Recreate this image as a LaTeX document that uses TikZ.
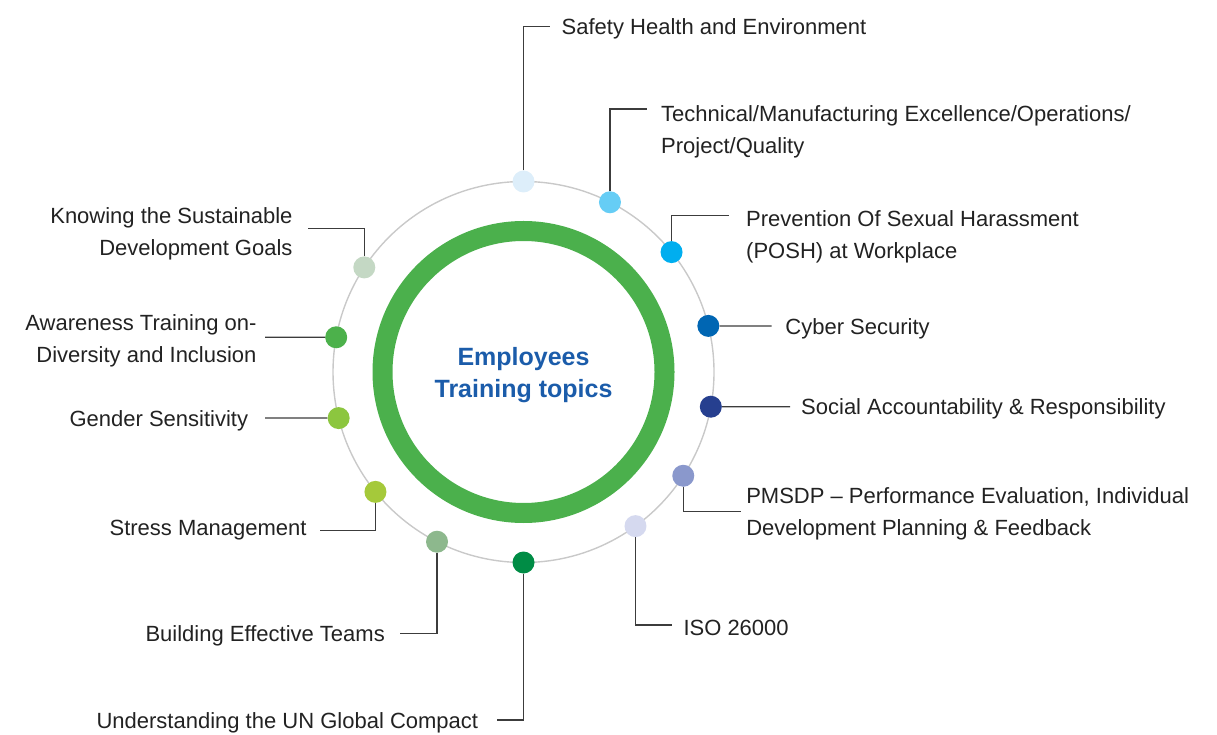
\documentclass[tikz,border=0pt]{standalone}
\usepackage{fontspec}
\setmainfont{Liberation Sans}
\usepackage{xcolor}
\usepackage{tikz}
\usetikzlibrary{positioning, calc}
\definecolor{ring-green}{HTML}{4BB04C}
\definecolor{circle-grey}{HTML}{C9C9C9}
\definecolor{lead-grey}{HTML}{3C3C3C}
\definecolor{topic-black}{HTML}{222222}
\definecolor{title-blue}{HTML}{1B5CAA}
\definecolor{c-safety}{HTML}{DDEEFA}
\definecolor{c-tech}{HTML}{66CDF5}
\definecolor{c-posh}{HTML}{00AEEF}
\definecolor{c-cyber}{HTML}{0066B3}
\definecolor{c-social}{HTML}{263F8F}
\definecolor{c-pmsdp}{HTML}{8A98CC}
\definecolor{c-iso}{HTML}{D5D9EF}
\definecolor{c-un}{HTML}{008C45}
\definecolor{c-teams}{HTML}{8DB88D}
\definecolor{c-stress}{HTML}{A5C93A}
\definecolor{c-gender}{HTML}{8CC63F}
\definecolor{c-diversity}{HTML}{4CB14B}
\definecolor{c-sdg}{HTML}{C4D8C4}
\tikzstyle{dot} = [circle, inner sep=0pt, minimum size=22pt]
\tikzstyle{lead} = [line width=1.3pt, draw=lead-grey]
\tikzstyle{topic} = [inner sep=0pt, yshift=-2.5pt, text=topic-black, font=\fontsize{22}{32}\selectfont]
\tikzstyle{title} = [inner sep=0pt, align=center, text=title-blue, font=\fontsize{25}{32}\selectfont\bfseries]

\begin{document}
\begin{tikzpicture}[x=1pt, y=1pt]
        \useasboundingbox (0,0) rectangle (1217,734);
        \coordinate (c) at (523.5,362);
        \draw [line width=1.4pt, circle-grey] (c) circle (190.5);
        \draw [line width=20pt, ring-green] (c) circle (141);
        \node [title] (title) at (523.5,359) {Employees\\Training topics};

        \node [dot, fill=c-safety] (safety) at ($(c)+(90:190.5)$) {};
        \node [dot, fill=c-tech] (tech) at ($(c)+(63:190.5)$) {};
        \node [dot, fill=c-posh] (posh) at ($(c)+(39:190.5)$) {};
        \node [dot, fill=c-cyber] (cyber) at ($(c)+(14:190.5)$) {};
        \node [dot, fill=c-social] (social) at ($(c)+(-10.5:190.5)$) {};
        \node [dot, fill=c-pmsdp] (pmsdp) at ($(c)+(-33:190.5)$) {};
        \node [dot, fill=c-iso] (iso) at ($(c)+(-54:190.5)$) {};
        \node [dot, fill=c-un] (un) at ($(c)+(-90:190.5)$) {};
        \node [dot, fill=c-teams] (teams) at ($(c)+(-117:190.5)$) {};
        \node [dot, fill=c-stress] (stress) at ($(c)+(-141:190.5)$) {};
        \node [dot, fill=c-gender] (gender) at ($(c)+(-166:190.5)$) {};
        \node [dot, fill=c-diversity] (diversity) at ($(c)+(169.5:190.5)$) {};
        \node [dot, fill=c-sdg] (sdg) at ($(c)+(146.7:190.5)$) {};

        \coordinate (safetyE) at (550,707.3);
        \coordinate (techE) at (647,625);
        \coordinate (poshE) at (729,518.3);
        \coordinate (cyberE) at (771.7,408);
        \coordinate (socialE) at (790,327.3);
        \coordinate (pmsdpE) at (740.6,222.3);
        \coordinate (isoE) at (671.7,109);
        \coordinate (unE) at (497.3,14);
        \coordinate (teamsE) at (400,100.7);
        \coordinate (stressE) at (320,203.3);
        \coordinate (genderE) at (265,316);
        \coordinate (diversityE) at (265,396.7);
        \coordinate (sdgE) at (308.3,505.7);

        \node [topic, right=11.5pt of safetyE] (safetyT) {Safety Health and Environment};
        \node [topic, align=left, right=14pt of techE, yshift=-20pt] (techT) {Technical/Manufacturing Excellence/Operations/\\Project/Quality};
        \node [topic, align=left, right=17pt of poshE, yshift=-18.8pt] (poshT) {Prevention Of Sexual Harassment\\(POSH) at Workplace};
        \node [topic, right=13.5pt of cyberE] (cyberT) {Cyber Security};
        \node [topic, right=11pt of socialE] (socialT) {Social Accountability \& Responsibility};
        \node [topic, align=left, right=5.5pt of pmsdpE] (pmsdpT) {PMSDP – Performance Evaluation, Individual\\Development Planning \& Feedback};
        \node [topic, right=11.6pt of isoE] (isoT) {ISO 26000};
        \node [topic, left=19pt of unE] (unT) {Understanding the UN Global Compact};
        \node [topic, left=15pt of teamsE] (teamsT) {Building Effective Teams};
        \node [topic, left=13.3pt of stressE, yshift=3.4pt] (stressT) {Stress Management};
        \node [topic, left=16.7pt of genderE] (genderT) {Gender Sensitivity};
        \node [topic, align=right, left=8.3pt of diversityE, yshift=-1.5pt] (diversityT) {Awareness Training on-\\Diversity and Inclusion};
        \node [topic, align=right, left=15.6pt of sdgE, yshift=-2.7pt] (sdgT) {Knowing the Sustainable\\Development Goals};

        \draw [lead] (safety) |- (safetyE);
        \draw [lead] (tech) |- (techE);
        \draw [lead] (posh) |- (poshE);
        \draw [lead] (cyber) -- (cyberE);
        \draw [lead] (social) -- (socialE);
        \draw [lead] (pmsdp) |- (pmsdpE);
        \draw [lead] (iso) |- (isoE);
        \draw [lead] (un) |- (unE);
        \draw [lead] (teams) |- (teamsE);
        \draw [lead] (stress) |- (stressE);
        \draw [lead] (gender) -- (genderE);
        \draw [lead] (diversity) -- (diversityE);
        \draw [lead] (sdg) |- (sdgE);
\end{tikzpicture}
\end{document}
